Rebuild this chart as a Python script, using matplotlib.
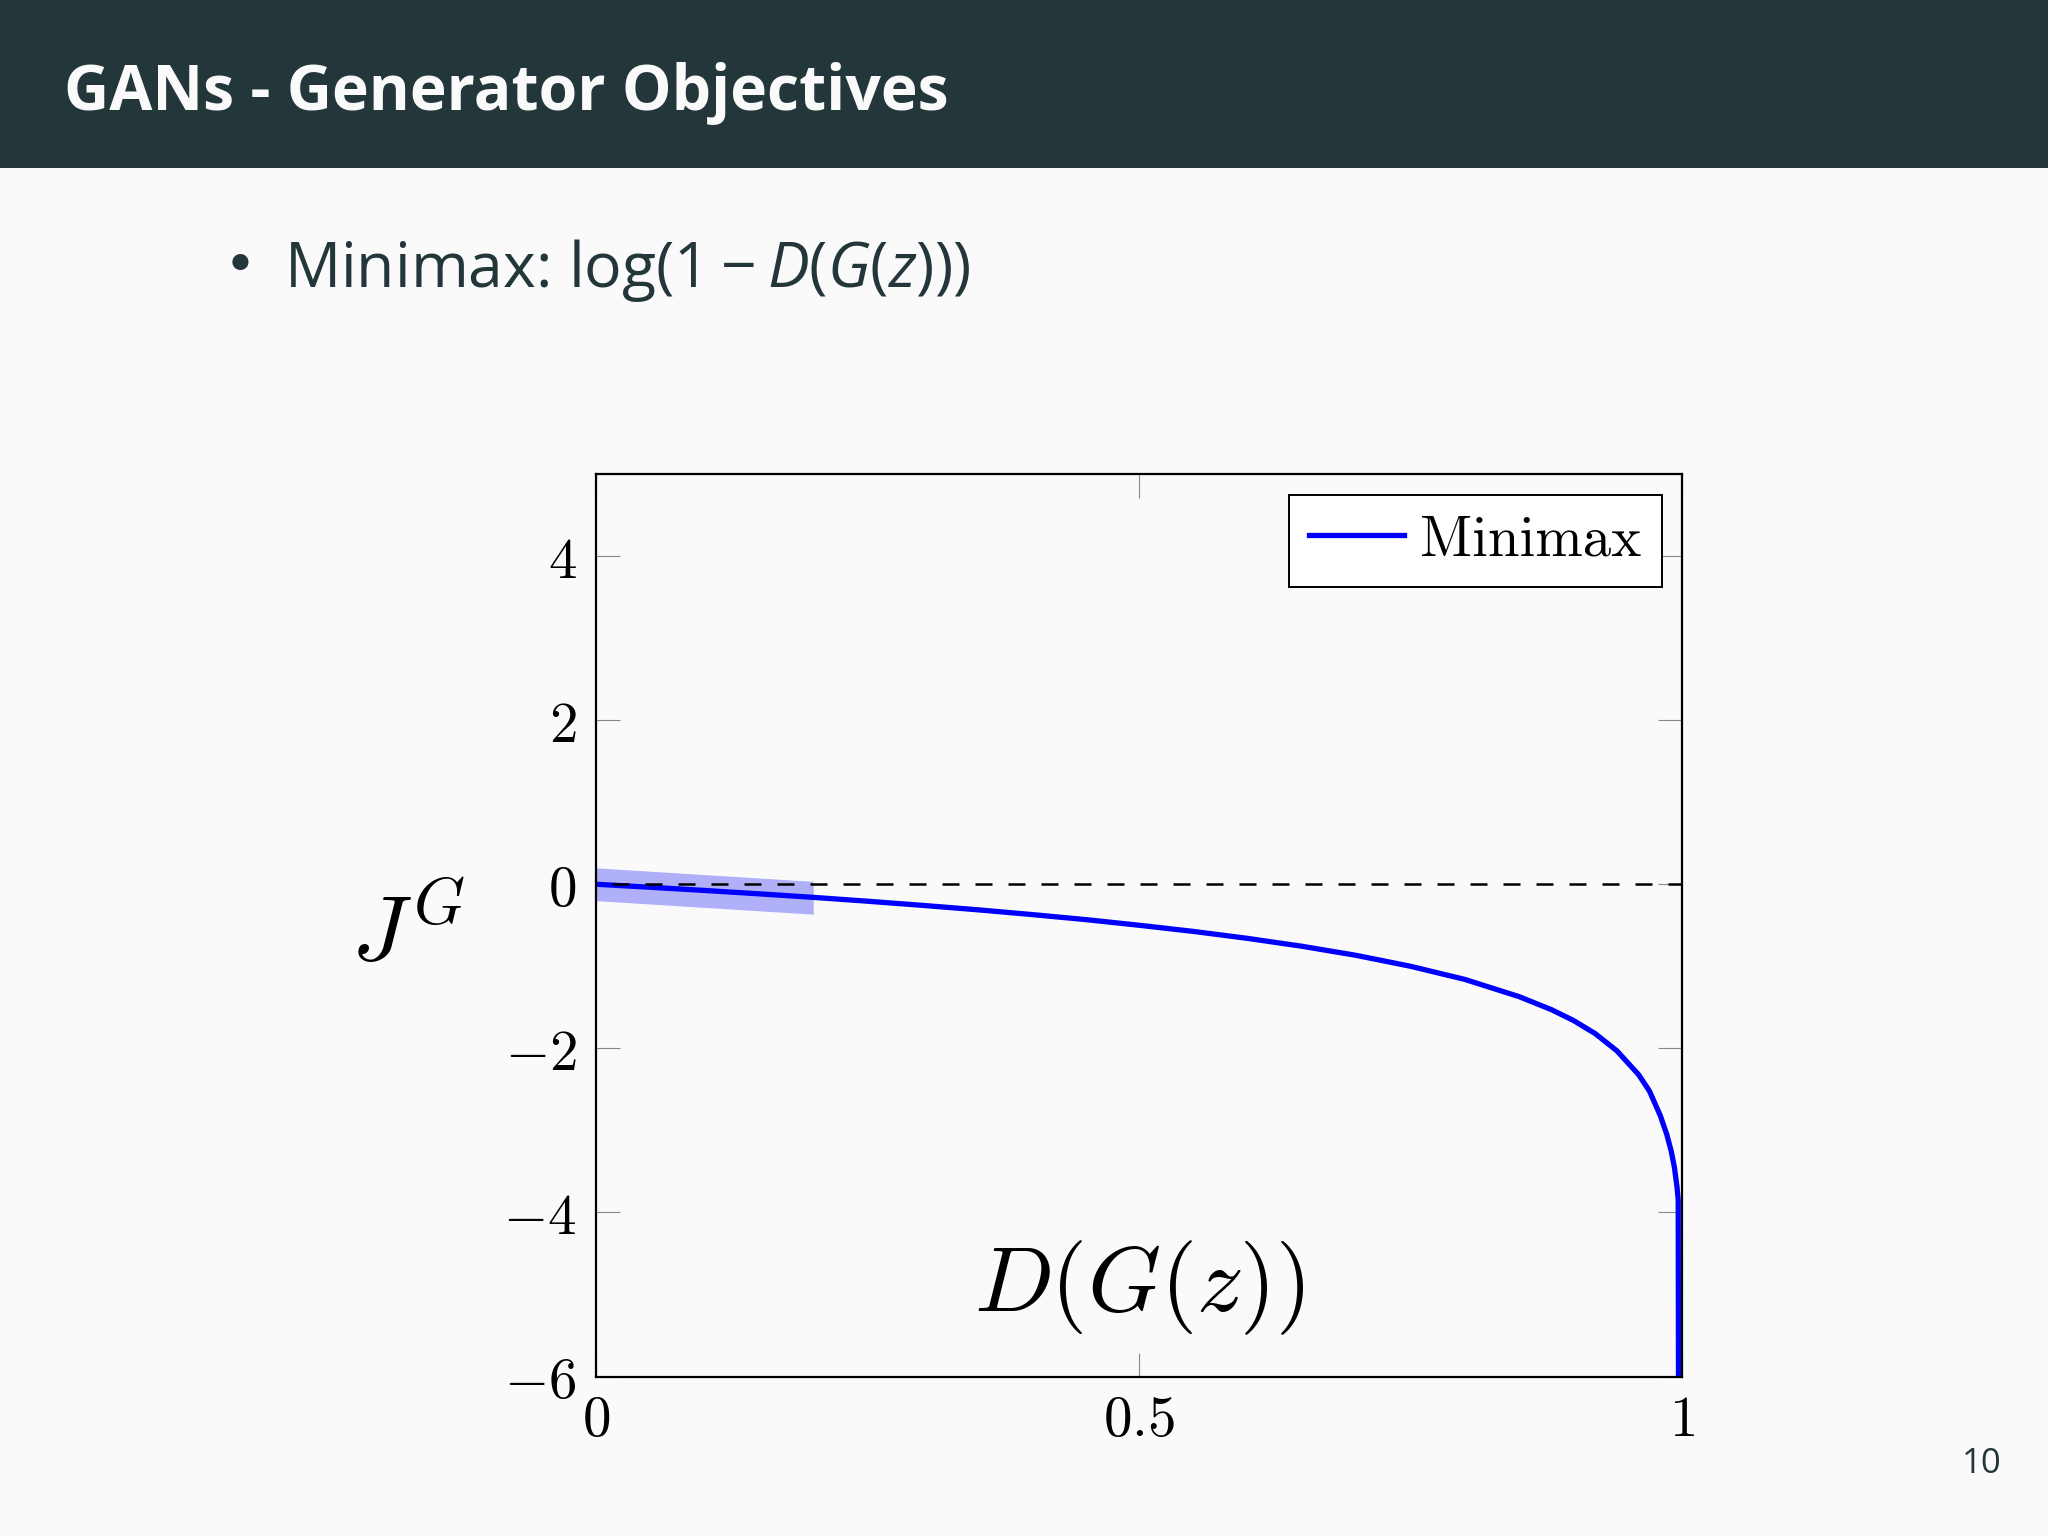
import matplotlib
matplotlib.use("Agg")
import matplotlib.pyplot as plt
from matplotlib.patches import Rectangle
from matplotlib.ticker import FixedLocator, FuncFormatter

# ---------------- data ----------------
TITLE = "GANs - Generator Objectives"
BULLET_TEXT = r"Minimax: $\mathrm{log}(1 - D(G(z)))$"
PAGE_NUMBER = "10"
SERIES_LABEL = "Minimax"
X_LABEL = r"$D(G(z))$"
Y_LABEL = r"$J^G$"

D_VALUES = [0.0, 0.05, 0.10, 0.15, 0.20, 0.25, 0.30, 0.35, 0.40, 0.45, 0.50,
            0.55, 0.60, 0.65, 0.70, 0.75, 0.80, 0.85, 0.88, 0.90, 0.92, 0.94,
            0.96, 0.97, 0.98, 0.986, 0.990, 0.993, 0.9955, 0.9965, 0.9968]
J_VALUES = [0.0, -0.037, -0.076, -0.117, -0.16, -0.207, -0.257, -0.31, -0.368,
            -0.43, -0.50, -0.575, -0.66, -0.756, -0.867, -1.0, -1.16, -1.37,
            -1.53, -1.66, -1.82, -2.03, -2.32, -2.52, -2.82, -3.05, -3.25,
            -3.45, -3.70, -3.85, -6.3]

# highlighted region near D(G(z)) = 0
BAND_X = [0.0, 0.2]
BAND_UPPER = [0.2, 0.035]
BAND_LOWER = [-0.2, -0.365]

REF_Y = [0.0, 0.0]
REF_X = [0.0, 1.0]

X_TICKS = [0, 0.5, 1]
Y_TICKS = [-6, -4, -2, 0, 2, 4]
X_LIM = (0, 1)
Y_LIM = (-6, 5)

# ---------------- style ----------------
BG = "#FAFAFA"
DARK = "#23373B"
plt.rcParams["mathtext.fontset"] = "cm"
plt.rcParams["mathtext.rm"] = "Open Sans"
plt.rcParams["mathtext.it"] = "Open Sans:italic"
plt.rcParams["mathtext.bf"] = "Open Sans:bold"

W, H = 2048, 1536
fig = plt.figure(figsize=(W / 100, H / 100), dpi=100, facecolor=BG)

# header bar
fig.patches.append(Rectangle((0, 1 - 168 / H), 1, 168 / H, transform=fig.transFigure,
                             facecolor=DARK, edgecolor="none", zorder=0))
fig.text(64 / W, 1 - 110 / H, TITLE, family="Open Sans", weight="bold", size=45,
         color=BG, ha="left", va="baseline")

# bullet
fig.text(240 / W, 1 - 268 / H, "\u2022", family="DejaVu Sans", size=40, color=DARK,
         ha="center", va="center")
fig.text(284 / W, 1 - 287 / H, BULLET_TEXT, family="Open Sans", size=45, color=DARK,
         ha="left", va="baseline", math_fontfamily="custom")

# page number
fig.text(2002 / W, 1 - 1473 / H, PAGE_NUMBER, family="Open Sans", size=25, color=DARK,
         ha="right", va="baseline")

# ---------------- axes ----------------
ax = fig.add_axes([596 / W, 1 - 1376.5 / H, (1682 - 596) / W, (1376.5 - 474) / H])
ax.set_facecolor("none")
ax.set_xlim(*X_LIM)
ax.set_ylim(*Y_LIM)

ax.fill_between(BAND_X, BAND_LOWER, BAND_UPPER, color="#b0b0f8", linewidth=0, zorder=1)
ax.plot(D_VALUES, J_VALUES, color="#0000ff", lw=3.8, zorder=2, label=SERIES_LABEL,
        solid_joinstyle="round")
ax.plot(REF_X, REF_Y, color="black", lw=1.8, linestyle=(6.8, (6.8, 6.4)), zorder=3)

for s in ax.spines.values():
    s.set_linewidth(1.6)
    s.set_color("black")
    s.set_zorder(4)

ax.xaxis.set_major_locator(FixedLocator(X_TICKS))
ax.yaxis.set_major_locator(FixedLocator(Y_TICKS))
fmt = FuncFormatter(lambda v, p: "$%g$" % v)
ax.xaxis.set_major_formatter(fmt)
ax.yaxis.set_major_formatter(fmt)
ax.tick_params(axis="both", which="major", direction="in", length=17, width=0.8,
               color="#8a8a8a", top=True, right=True, labelsize=41, labelcolor="black")
ax.tick_params(axis="x", pad=12)
ax.tick_params(axis="y", pad=14)

ax.set_xlabel(X_LABEL, fontsize=67)
ax.xaxis.set_label_coords(0.5, 0.072)
ax.xaxis.label.set_va("baseline")

ax.set_ylabel(Y_LABEL, fontsize=67, rotation=0)
ax.yaxis.set_label_coords(-0.173, 0.49)
ax.yaxis.label.set_va("center")
ax.yaxis.label.set_ha("center")

leg = ax.legend(loc="upper right", bbox_to_anchor=(1, 1), fontsize=41,
                frameon=True, fancybox=False, framealpha=1, facecolor="white",
                edgecolor="black", borderaxespad=0.36, handlelength=1.67,
                handletextpad=0.27, borderpad=0.36)
leg.get_frame().set_linewidth(1.4)
for t in leg.get_texts():
    t.set_family(["cmr10", "DejaVu Serif"])

fig.savefig("out.png", dpi=100, facecolor=BG)
